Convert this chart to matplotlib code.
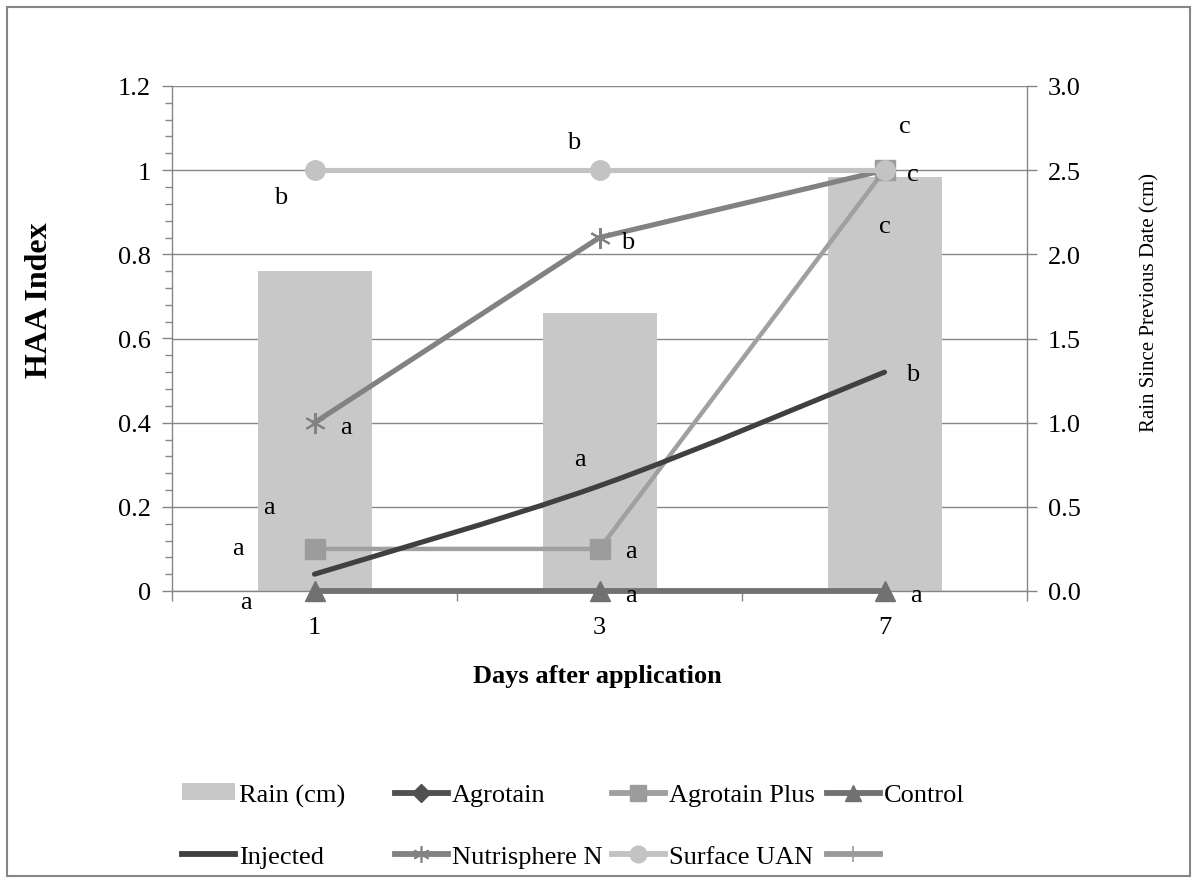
import numpy as np
import matplotlib
matplotlib.use("Agg")
import matplotlib.pyplot as plt
from matplotlib.path import Path
from matplotlib.patches import PathPatch, Rectangle, Patch
from matplotlib.lines import Line2D
from matplotlib.ticker import MultipleLocator, FixedLocator, FormatStrFormatter

plt.rcParams['font.family'] = ['Liberation Serif', 'DejaVu Serif']

# ---- data ----
days = ['1', '3', '7']
rain_cm = [1.90, 1.65, 2.46]
agrotain = [np.nan, np.nan, np.nan]   # not visible in the plot
agrotain_plus = [0.10, 0.10, 1.00]
control = [0.0, 0.0, 0.0]
injected = [0.04, 0.25, 0.52]
nutrisphere = [0.40, 0.84, 1.00]
surface_uan = [1.00, 1.00, 1.00]

# significance letters (x in category units, y in HAA units)
letter_x = [-0.12, 0.91, 2.07, 2.10, 2.00, 1.10, 0.11, 2.10, 0.93, -0.16, -0.27, 1.11, -0.24, 1.11, 2.11]
letter_y = [0.936, 1.067, 1.105, 0.991, 0.867, 0.829, 0.390, 0.516, 0.314, 0.200, 0.102, 0.095, -0.026, -0.010, -0.010]
letters = ['b', 'b', 'c', 'c', 'c', 'b', 'a', 'b', 'a', 'a', 'a', 'a', 'a', 'a', 'a']

GRAY = '#868686'
C_BAR = '#c8c8c8'
C_AGRO = '#505050'
C_AGROP = '#a0a0a0'
C_CTRL = '#717171'
C_INJ = '#404040'
C_NUTRI = '#828282'
C_UAN = '#c3c3c3'
C_PLUS = '#9a9a9a'
FS = 19

W, H = 1194, 879
fig = plt.figure(figsize=(W / 100, H / 100), dpi=100)
fig.patches.append(Rectangle((7 / W, 2 / H), 1183 / W, 869 / H, transform=fig.transFigure,
                             fill=False, edgecolor=GRAY, linewidth=1.5))

pos = [172 / W, 1 - 592 / H, 855 / W, 505 / H]
x = np.arange(len(days))

# rain bars on the secondary scale, drawn underneath
ax_r = fig.add_axes(pos)
ax_r.bar(x, rain_cm, width=0.4, color=C_BAR, zorder=2)
ax_r.set_ylim(0, 3)
ax_r.set_xlim(-0.5, 2.5)
ax_r.yaxis.tick_right()
ax_r.yaxis.set_major_locator(MultipleLocator(0.5))
ax_r.yaxis.set_major_formatter(FormatStrFormatter('%.1f'))
ax_r.set_axisbelow(True)
ax_r.grid(axis='y', color=GRAY, linewidth=1.0, zorder=0)
ax_r.tick_params(axis='y', direction='out', length=7, width=1.0, color=GRAY,
                 labelsize=FS, pad=8)
for s in ['top', 'left', 'bottom']:
    ax_r.spines[s].set_visible(False)
ax_r.spines['right'].set_color(GRAY)
ax_r.spines['right'].set_linewidth(1.0)
ax_r.set_xticks([])

# HAA lines on the primary axis
ax = fig.add_axes(pos)
ax.patch.set_visible(False)
ax.set_xlim(-0.5, 2.5)
ax.set_ylim(0, 1.2)
for s in ['top', 'right']:
    ax.spines[s].set_visible(False)
for s in ['left', 'bottom']:
    ax.spines[s].set_color(GRAY)
    ax.spines[s].set_linewidth(1.0)
ax.yaxis.set_major_locator(MultipleLocator(0.2))
ax.yaxis.set_minor_locator(MultipleLocator(0.04))
ax.yaxis.set_major_formatter(FormatStrFormatter('%g'))
ax.tick_params(axis='y', which='major', direction='out', length=7, width=1.0,
               color=GRAY, labelsize=FS, pad=8)
ax.tick_params(axis='y', which='minor', direction='out', length=5, width=1.0, color=GRAY)
ax.set_xticks(x)
ax.set_xticklabels(days)
ax.xaxis.set_minor_locator(FixedLocator([-0.5, 0.5, 1.5, 2.5]))
ax.tick_params(axis='x', which='major', length=0, labelsize=FS, pad=18)
ax.tick_params(axis='x', which='minor', direction='out', length=7, width=1.0, color=GRAY)

lw = 3.2
ax.plot(x, agrotain, color=C_AGRO, lw=lw, marker='D', ms=10, zorder=3)
ax.plot(x, agrotain_plus, color=C_AGROP, lw=lw, marker='s', ms=14, mfc='#9c9c9c',
        mec='#9c9c9c', zorder=4)
ax.plot(x, control, color=C_CTRL, lw=lw + 1, marker='^', ms=15, mfc=C_CTRL, mec=C_CTRL,
        zorder=5, clip_on=False)

# Excel-style smoothed line for Injected (Catmull-Rom through the points)
pts = np.column_stack([x, injected]).astype(float)
verts = [tuple(pts[0])]
codes = [Path.MOVETO]
for i in range(len(pts) - 1):
    p0 = pts[max(i - 1, 0)]
    p1 = pts[i]
    p2 = pts[i + 1]
    p3 = pts[min(i + 2, len(pts) - 1)]
    c1 = p1 + (p2 - p0) / 6.0
    c2 = p2 - (p3 - p1) / 6.0
    verts += [tuple(c1), tuple(c2), tuple(p2)]
    codes += [Path.CURVE4] * 3
ax.add_patch(PathPatch(Path(verts, codes), fill=False, edgecolor=C_INJ, lw=lw + 0.5,
                       capstyle='round', zorder=6))

ax.plot(x, nutrisphere, color=C_NUTRI, lw=lw + 0.5, marker=(6, 2, 0), ms=15, mew=1.5,
        mec=C_NUTRI, zorder=7)
ax.plot(x, surface_uan, color=C_UAN, lw=lw + 0.5, marker='o', ms=14, mfc=C_UAN, mec=C_UAN,
        zorder=8)

for lx, ly, t in zip(letter_x, letter_y, letters):
    ax.text(lx, ly, t, fontsize=FS, ha='center', va='center', zorder=10)

# axis titles, placed where Excel put them
fig.text(40 / W, 1 - 300 / H, 'HAA Index', fontsize=23, fontweight='bold',
         rotation=90, ha='center', va='center')
fig.text(1150 / W, 1 - 302 / H, 'Rain Since Previous Date (cm)', fontsize=15,
         rotation=90, ha='center', va='center')
fig.text(597 / W, 1 - 676 / H, 'Days after application', fontsize=FS, fontweight='bold',
         ha='center', va='center')

# legend entries placed like the Excel legend (4 columns, 2 rows)
col_x = [182, 395, 612, 827]
row_y = [796, 858]
entries = [
    (Patch(facecolor=C_BAR, edgecolor='none'), 'Rain (cm)'),
    (Line2D([], [], color=C_AGRO, lw=lw + 1, marker='D', ms=9), 'Agrotain'),
    (Line2D([], [], color=C_AGROP, lw=lw + 1, marker='s', ms=12, mfc='#9c9c9c', mec='#9c9c9c'),
     'Agrotain Plus'),
    (Line2D([], [], color=C_CTRL, lw=lw + 1, marker='^', ms=12), 'Control'),
    (Line2D([], [], color=C_INJ, lw=lw + 1), 'Injected'),
    (Line2D([], [], color=C_NUTRI, lw=lw + 1, marker=(6, 2, 0), ms=12, mew=1.2),
     'Nutrisphere N'),
    (Line2D([], [], color=C_UAN, lw=lw + 1, marker='o', ms=12), 'Surface UAN'),
    (Line2D([], [], color=C_PLUS, lw=lw + 1, marker='+', ms=12, mew=1.2), ' '),
]
for i, (h, lab) in enumerate(entries):
    px = col_x[i % 4]
    py = row_y[i // 4]
    fig.legend([h], [lab], loc='center left', bbox_to_anchor=(px / W, 1 - py / H),
               frameon=False, fontsize=FS, handlelength=2.0, handleheight=0.6,
               handletextpad=0.15, borderpad=0, borderaxespad=0)

fig.savefig('out.png', dpi=100)
